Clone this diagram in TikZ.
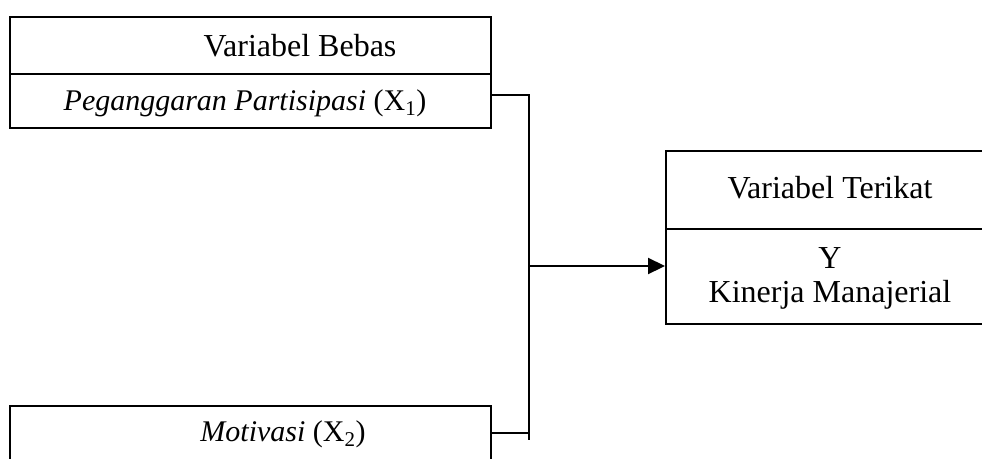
\documentclass[tikz,border=0pt]{standalone}
\usepackage{fontspec}
\setmainfont{Liberation Serif}
\usetikzlibrary{arrows.meta,calc}
\begin{document}
\begin{tikzpicture}[x=1pt,y=-1pt,
  frame/.style={draw,line width=2.2pt,inner sep=0pt,anchor=north west},
  label/.style={anchor=base,inner sep=0pt,font=\fontsize{32}{38}\selectfont},
  small/.style={label,font=\fontsize{30}{36}\selectfont},
  link/.style={line width=2.2pt},
  tip/.style={-{Triangle[length=17pt,width=16pt]}}]
\useasboundingbox (0,0) rectangle (982,458);
\begin{scope}
\clip (0,0) rectangle (982,458);
% independent variable X1
\node[frame,minimum width=481pt,minimum height=57pt] (b1) at (9,16) {};
\node[frame,minimum width=481pt,minimum height=54pt] (b2) at (9,73) {};
\node[label] (b1t) at (300,56) {Variabel Bebas};
\node[small] (b2t) at (245,110) {\textit{Peganggaran Partisipasi} (X\textsubscript{1})};
% independent variable X2
\node[frame,minimum width=481pt,minimum height=70pt] (m) at (9,405) {};
\node[small] (mt) at (283,441) {\textit{Motivasi} (X\textsubscript{2})};
% dependent variable Y
\node[frame,minimum width=330pt,minimum height=78pt] (t1) at (665,150) {};
\node[frame,minimum width=330pt,minimum height=95pt] (t2) at (665,228) {};
\node[label] (t1t) at (830,198) {Variabel Terikat};
\node[label] (t2a) at (830,268) {Y};
\node[label] (t2b) at (830,302) {Kinerja Manajerial};
\end{scope}
% connectors
\coordinate (j1) at (529,95);
\coordinate (j2) at (529,440);
\coordinate (j3) at (529,433);
\coordinate (j4) at (530,266);
\draw[link] (j1 -| b2.east) -- (j1) -- (j2);
\draw[link] (j3 -| m.east) -- (j3);
\draw[link,tip] (j4) -- (j4 -| t2.west);
\end{tikzpicture}
\end{document}
